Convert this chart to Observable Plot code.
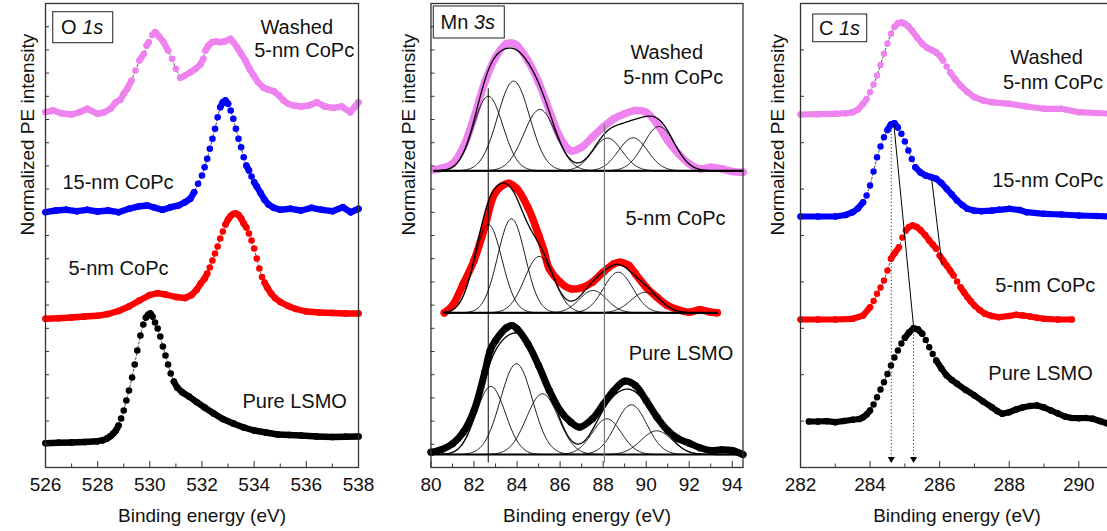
<!DOCTYPE html>
<html><head><meta charset="utf-8">
<script src="https://cdn.jsdelivr.net/npm/d3@7"></script>
<script src="https://cdn.jsdelivr.net/npm/@observablehq/plot@0.6"></script>
<style>
body{margin:0;background:#fff;overflow:hidden;}
#wrap{position:relative;width:1107px;height:531px;overflow:hidden;background:#fff;}
.panel{position:absolute;top:0;}
.panel svg{max-width:none !important;}
</style></head><body><div id="wrap"></div>
<script>
// ---------- colours & text ----------
const colors = {washed: "#ee82ee", cp15: "#0000ff", cp5: "#ff0000", lsmo: "#000000"};
const xTitle = "Binding energy (eV)";
const yTitle = "Normalized PE intensity";

// ---------- O 1s (intensity in arbitrary units, stacked) ----------
const o1sTicks = [526, 528, 530, 532, 534, 536, 538];
const o1sMinor = [527, 529, 531, 533, 535, 537];
const o1sWashedX = [526,526.3,526.6,527,527.3,527.6,528,528.25,528.49,528.7,528.87,529.0,529.13,529.3,529.45,529.6,529.77,529.88,529.96,530.1,530.21,530.35,530.53,530.7,530.85,531.0,531.17,531.35,531.56,531.75,531.94,532.05,532.13,532.25,532.39,532.55,532.7,532.9,533.09,533.2,533.34,533.5,533.66,533.82,533.98,534.15,534.36,534.55,534.75,534.95,535.13,535.3,535.51,535.8,536.1,536.41,536.7,537.05,537.35,537.68,537.85,538];
const o1sWashedY = [355.3,357,354.3,353,355.3,358.7,353.7,355.3,358.7,365.3,367.7,373.7,378.7,387,397,407,413.7,422,425.3,432.7,435.3,431,425.3,417,408.7,398.7,389.7,392,395.3,398.7,403,408.7,417,422,425.3,426,425.3,426.3,428.7,425.3,420.3,413.7,407,398.7,392,385.3,379.7,377.7,376.3,372,367,363.7,362,361,362,365.3,361,359.7,361,355.3,360.3,365.3];
const o1s15X = [526,526.4,526.8,527.2,527.6,528,528.4,528.8,529.2,529.6,529.9,530.2,530.5,530.8,531.1,531.35,531.55,531.7,531.85,532.0,532.1,532.2,532.3,532.4,532.5,532.6,532.7,532.8,532.9,533.0,533.1,533.2,533.3,533.4,533.5,533.6,533.7,533.8,533.9,534.0,534.1,534.25,534.4,534.55,534.75,535.0,535.4,535.8,536.2,536.6,537.0,537.4,537.7,538];
const o1s15Y = [255.3,257,257.7,256.3,257.7,256,257,255.3,258.7,261.3,262,259.7,257.7,260.3,262,265.3,268.7,275.3,283.7,292,300.3,308.7,318.7,328.7,338.7,350.3,360.3,365.3,367,363.7,357,348.7,338.7,328.7,320.3,310.3,302,297,291,285.3,281,274.3,267.7,263,259.7,257.7,258.7,257,259.7,257.7,256.3,260.3,255.3,258.7];
const o1s5X = [526,526.5,527,527.5,528,528.4,528.8,529.2,529.6,530.0,530.3,530.6,531.0,531.35,531.6,531.8,531.95,532.1,532.2,532.3,532.4,532.5,532.6,532.7,532.8,532.9,533.0,533.1,533.2,533.3,533.4,533.5,533.6,533.7,533.8,533.9,534.0,534.1,534.2,534.3,534.4,534.5,534.65,534.8,535.0,535.3,535.6,536.0,536.5,537,537.5,538];
const o1s5Y = [148.7,149.3,150,151,151.7,153.5,156.5,161,167,172.5,174.3,173,170.5,169.5,172.5,178,184,189,194,200,207,214,221,229,236,243,248,251.5,253.5,254,252.5,249,244,240,234,227,219,209,199,190.5,185,180,174,169.5,165.5,161.5,158.5,156,155,154.5,154,154];
const o1sLsmoX = [526,526.5,527,527.5,528,528.2,528.36,528.5,528.6,528.7,528.8,528.9,529.0,529.1,529.2,529.32,529.42,529.52,529.64,529.75,529.85,529.95,530.02,530.1,530.2,530.3,530.4,530.5,530.6,530.7,530.8,530.92,531.05,531.24,531.5,531.8,532.1,532.45,532.8,533.2,533.6,534,534.45,534.9,535.35,535.8,536.4,537,537.5,538];
const o1sLsmoY = [24.3,24.7,25,25.5,26.3,27.3,29,31.5,34,37,42,49,57,67,77,90,103,117,132,143,150,153,154,151,145,139,131,121,112,103,94,86,80,75.3,71,65.3,60,54,48.5,44,40,37,35,33,32.5,32,31,30.5,30.8,31];

// ---------- Mn 3s (data relative to each background, plus offsets) ----------
const mnTicks = [80, 82, 84, 86, 88, 90, 92, 94];
const mnMinor = [81, 83, 85, 87, 89, 91, 93];
const mnOffsets = {washed: 296.7, cp5: 154.7, lsmo: 13};
const mnRange = {washed: [80.15, 94.5], cp5: [80.62, 93.3], lsmo: [80, 94.5]};
const mnWashedX = [80.15,80.5,81,81.5,82,82.5,83,83.5,83.8,84,84.5,85,85.5,86,86.5,87,87.5,88,88.5,89,89.5,90,90.5,91,91.5,92,92.5,93,93.5,94,94.5];
const mnWashedY = [1,2.6,7,23.6,53.6,88.6,113.6,127,127.6,125.3,110.3,88.6,60.3,33.6,20,23.6,33.6,43.6,52,57,60.3,58.6,47,30.3,17,7,2,3.6,2,-0.7,-1.4];
const mn5X = [80.62,81,81.5,82,82.5,83,83.6,84,84.5,85,85.25,85.5,86,86.5,87,87.5,88,88.5,88.8,89.2,89.5,90,90.5,91,91.5,92,92.5,93,93.3];
const mn5Y = [0,7.3,29,52.3,85.6,120.6,129.6,124,105.6,78,62,44,30.6,24,25,30.6,40.6,49,50.6,47.3,39,25.6,15.6,7.3,3,0.6,3,0.6,0];
const mnLsmoX = [80,80.5,81,81.5,82,82.5,82.75,83,83.5,83.76,84,84.5,85,85.5,86,86.5,86.9,87.5,88,88.5,89,89.5,90,90.5,91,91.5,92,92.5,93,93.5,94,94.5];
const mnLsmoY = [2.3,5,10.7,22.3,44,82.3,104,114,126.7,129,125.7,110.7,89,64,44,32.3,27.3,35.7,50,64,73.3,69,54,37.3,24,15.7,11.3,6.7,4,4.7,4,0];
// fitted components: centre (eV), height, FWHM (eV)
const mnWashedComp = {c: [82.66, 83.84, 85.06, 88.2, 89.39, 90.6], h: [74.6, 89.7, 61.3, 32.7, 33, 44.3], w: [1.6, 1.75, 1.75, 1.6, 1.6, 1.7]};
const mn5Comp = {c: [82.66, 83.74, 85.03, 87.53, 88.7, 89.97], h: [88.3, 94, 56.3, 22.3, 40.6, 20.6], w: [1.5, 1.5, 1.6, 1.5, 1.6, 1.6]};
const mnLsmoComp = {c: [82.78, 83.97, 85.18, 88.17, 89.31, 90.49], h: [68, 90.7, 60.7, 35.7, 49.7, 23.7], w: [1.6, 1.75, 1.75, 1.6, 1.7, 1.7]};
const mnGuides = [82.66, 88.06];

// ---------- C 1s ----------
const c1sTicks = [282, 284, 286, 288, 290];
const c1sMinor = [283, 285, 287, 289, 291];
const c1sWashedX = [282,282.5,283,283.3,283.5,283.65,283.8,283.9,284.0,284.1,284.2,284.3,284.4,284.5,284.6,284.7,284.8,284.9,285.0,285.1,285.2,285.35,285.5,285.65,285.8,285.9,286.0,286.1,286.2,286.3,286.45,286.6,286.8,287.0,287.25,287.5,288,288.5,289,289.5,290,290.5,291];
const c1sWashedY = [353,353.3,353.7,354.3,355.3,358,363.7,368.5,375.3,383,392,402.5,413.7,424,433.7,440.5,444.3,445,443.7,441,437,430,423.7,419.5,417,415,412,407,401,395.3,388,382,375.5,370.3,367,365.3,363.7,361,358.7,358.7,355.3,354.5,353.7];
const c1s15X = [282,282.5,283,283.3,283.5,283.65,283.8,283.9,284.0,284.1,284.2,284.3,284.4,284.5,284.6,284.7,284.8,284.9,285.0,285.1,285.2,285.3,285.45,285.6,285.75,285.9,286.05,286.2,286.35,286.5,286.65,286.8,287.0,287.2,287.5,287.7,288,288.3,288.5,289,289.5,290,290.5,291];
const c1s15Y = [251,251,251,252.5,255.3,259,265.3,272,282,296,310.3,321,330.3,337.5,343,344.3,340,333.7,326,317,308.5,300.3,295,292,290.5,288.7,284.5,278.7,273,267,262.5,258.7,256.8,256.3,256.8,257.7,258.7,257.5,255.3,253.7,253,252,251.5,251];
const c1s5X = [282,282.5,283,283.5,283.8,284.0,284.1,284.2,284.3,284.4,284.5,284.6,284.7,284.83,284.93,285.03,285.12,285.22,285.34,285.46,285.58,285.7,285.8,285.9,286.0,286.1,286.2,286.3,286.4,286.5,286.6,286.7,286.8,286.9,287.0,287.15,287.3,287.5,287.7,288.0,288.2,288.4,288.6,288.8,289.0,289.4,289.8];
const c1s5Y = [148,148,148,148.7,152,160.3,166.5,173.7,180,187,197,208.7,214,220.3,230,237,240.5,242,240.5,237,232.5,227,223,218.7,212,207,202,197,192,186,180.3,175,170.3,166,162,157.5,153.7,151.5,150.3,151.5,152.7,152,151,149.8,148.7,148,148];
const c1sLsmoX = [282.24,282.5,282.75,283.0,283.25,283.5,283.7,283.8,283.9,284.0,284.1,284.2,284.3,284.4,284.5,284.6,284.7,284.8,284.9,285.0,285.12,285.25,285.38,285.5,285.6,285.7,285.8,285.9,286.05,286.2,286.35,286.5,286.75,287.0,287.25,287.5,287.65,287.8,288.0,288.2,288.4,288.6,288.8,289.0,289.2,289.4,289.6,289.8,290.0,290.2,290.4,290.6,290.8,291];
const c1sLsmoY = [46,46,46.3,45.3,46.5,47.7,48.5,50.3,53,57,63,70.3,78,85.3,93.5,102,110,117,124,129.7,135,139.3,138,133.7,127.5,120.3,113.5,107,99,92,87.5,83.7,77.5,72,66,60.3,56.5,53.7,55.3,58,60.3,61.5,62,60,57,54,51,49.5,49.3,49.5,48.7,46.5,44.3,43.5];
// peak-shift guides (eV, intensity)
const c1sDropLines = [{x: 284.61, top: 342}, {x: 285.25, top: 139}];
const c1sShiftLines = [{x1: 284.68, y1: 344.3, x2: 285.25, y2: 141}, {x1: 285.77, y1: 288.7, x2: 286.07, y2: 202}];

// ---------- helpers ----------
const FONT = "'Liberation Sans', Arial, Helvetica, sans-serif";
const H = 531, MT = 3, MB = 64, FH = H - MT - MB;
const zip = (xs, ys, extra = 0) => xs.map((x, i) => ({x, y: ys[i] + extra}));

// dense band + dots (Mn 3s)
function spectrum(data, color, r = 3.3, band = 6.4) {
  return [
    Plot.line(data, {x: "x", y: "y", stroke: color, strokeWidth: band, curve: "catmull-rom"}),
    Plot.dot(data, {x: "x", y: "y", r, fill: color, stroke: "none"})
  ];
}
// dots joined by a thin dashed line; where the curve is flat the dots merge into a band
function dotted(data, color, pxPerEv, thr, r = 3.3, band = 6.4) {
  const segs = [];
  for (let i = 1; i < data.length; i++) {
    const a = data[i - 1], b = data[i];
    const slope = Math.abs(b.y - a.y) / ((b.x - a.x) * pxPerEv);
    if (slope < thr) segs.push({x1: a.x, y1: a.y, x2: b.x, y2: b.y});
  }
  return [
    Plot.line(data, {x: "x", y: "y", stroke: "#000", strokeWidth: 0.7, strokeDasharray: "2,2"}),
    Plot.link(segs, {x1: "x1", y1: "y1", x2: "x2", y2: "y2", stroke: color, strokeWidth: band, strokeLinecap: "round"}),
    Plot.dot(data, {x: "x", y: "y", r, fill: color, stroke: "none"})
  ];
}

function fitMarks(comp, offset, range) {
  const grid = d3.range(range[0], range[1] + 1e-9, 0.04);
  const marks = [];
  const sig = comp.w.map(w => w / 2.3548);
  comp.c.forEach((c, k) => {
    const pts = grid.map(x => ({x, y: offset + comp.h[k] * Math.exp(-((x - c) ** 2) / (2 * sig[k] ** 2))}));
    marks.push(Plot.line(pts, {x: "x", y: "y", stroke: "#000", strokeWidth: 0.9}));
  });
  const env = grid.map(x => ({x, y: offset + comp.c.reduce((s, c, k) => s + comp.h[k] * Math.exp(-((x - c) ** 2) / (2 * sig[k] ** 2)), 0)}));
  marks.push(Plot.line([{x: range[0], y: offset}, {x: range[1], y: offset}], {x: "x", y: "y", stroke: "#000", strokeWidth: 2}));
  marks.push(Plot.line(env, {x: "x", y: "y", stroke: "#000", strokeWidth: 1.3}));
  return marks;
}

function labels(list) {
  return Plot.text(list, {x: "x", y: "y", text: "t", textAnchor: "start", lineAnchor: "bottom", fontSize: 20, fill: "#111"});
}

function makePanel(cfg) {
  const fw = cfg.width - cfg.marginLeft - cfg.marginRight;
  const svg = Plot.plot({
    width: cfg.width, height: H,
    marginTop: MT, marginBottom: MB, marginLeft: cfg.marginLeft, marginRight: cfg.marginRight,
    style: {fontFamily: FONT, background: "transparent", overflow: "visible", color: "#111", maxWidth: "none"},
    x: {domain: cfg.domain},
    y: {domain: [0, FH], axis: null},
    marks: [
      ...cfg.marks,
      Plot.frame({stroke: "#333", strokeWidth: 1.3}),
      Plot.tickX(cfg.major, {x: d => d, insetTop: FH - 6, stroke: "#333"}),
      Plot.tickX(cfg.minor, {x: d => d, insetTop: FH - 3.5, stroke: "#333"}),
      Plot.tickY(cfg.yticks, {y: d => d, insetRight: fw - 4, stroke: "#333"}),
      Plot.axisX(cfg.major, {anchor: "bottom", tickSize: 0, tickPadding: 10, fontSize: 19, tickFormat: d => String(d), label: null, fill: "#111"}),
      Plot.text([xTitle], {frameAnchor: "bottom", dy: 54.7, lineAnchor: "bottom", fontSize: 19, fill: "#111"}),
      Plot.text([yTitle], {frameAnchor: "left", dx: cfg.ylabelDx, rotate: -90, lineAnchor: "bottom", fontSize: 19, fill: "#111"})
    ]
  });
  svg.style.maxWidth = "none";
  const b = cfg.box;
  const g = d3.select(svg).append("g");
  g.append("rect").attr("x", b.x).attr("y", b.y).attr("width", b.w).attr("height", b.h)
    .attr("fill", "#fff").attr("stroke", "#333").attr("stroke-width", 1.1);
  const t = g.append("text").attr("x", b.tx).attr("y", b.ty).attr("font-size", 20)
    .attr("text-anchor", "start").attr("font-family", FONT).attr("fill", "#111");
  t.append("tspan").text(b.main + " ");
  t.append("tspan").attr("font-style", "italic").text(b.ital);
  const div = document.createElement("div");
  div.className = "panel";
  div.style.left = cfg.left + "px";
  div.style.width = cfg.width + "px";
  div.appendChild(svg);
  document.getElementById("wrap").appendChild(div);
}

// ---------- panel 1: O 1s ----------
const o1sPx = 313 / 12;
makePanel({
  left: 0, width: 370, marginLeft: 45, marginRight: 12, domain: [526, 538],
  major: o1sTicks, minor: o1sMinor, yticks: d3.range(1, 20).map(i => i * FH / 20), ylabelDx: -12,
  box: {x: 52.7, y: 11.7, w: 60, h: 31, tx: 61, ty: 34, main: "O", ital: "1s"},
  marks: [
    ...dotted(zip(o1sLsmoX, o1sLsmoY), colors.lsmo, o1sPx, 2.0),
    ...dotted(zip(o1s5X, o1s5Y), colors.cp5, o1sPx, 2.0),
    ...dotted(zip(o1s15X, o1s15Y), colors.cp15, o1sPx, 2.0),
    ...dotted(zip(o1sWashedX, o1sWashedY), colors.washed, o1sPx, 2.0),
    labels([
      {x: 534.24, y: 434, t: "Washed"},
      {x: 534.0, y: 410.3, t: "5-nm CoPc"},
      {x: 526.65, y: 279, t: "15-nm CoPc"},
      {x: 526.88, y: 193, t: "5-nm CoPc"},
      {x: 533.55, y: 59.3, t: "Pure LSMO"}
    ])
  ]
});

// ---------- panel 2: Mn 3s ----------
makePanel({
  left: 380, width: 373, marginLeft: 50.5, marginRight: 10.5, domain: [80, 94.5],
  major: mnTicks, minor: mnMinor, yticks: d3.range(1, 20).map(i => i * FH / 20), ylabelDx: -16.5,
  box: {x: 53.3, y: 6, w: 71, h: 32, tx: 60.5, ty: 29, main: "Mn", ital: "3s"},
  marks: [
    ...spectrum(zip(mnLsmoX, mnLsmoY, mnOffsets.lsmo), colors.lsmo, 3.6, 7),
    ...spectrum(zip(mn5X, mn5Y, mnOffsets.cp5), colors.cp5, 3.8, 7.5),
    ...spectrum(zip(mnWashedX, mnWashedY, mnOffsets.washed), colors.washed, 3.8, 7.5),
    ...fitMarks(mnLsmoComp, mnOffsets.lsmo, mnRange.lsmo),
    ...fitMarks(mn5Comp, mnOffsets.cp5, mnRange.cp5),
    ...fitMarks(mnWashedComp, mnOffsets.washed, mnRange.washed),
    Plot.ruleX([{x: mnGuides[0], top: 378.7}], {x: "x", y1: 4.5, y2: "top", stroke: "#000", strokeWidth: 1}),
    Plot.ruleX([{x: mnGuides[1], top: 342.7}], {x: "x", y1: 4.5, y2: "top", stroke: "#777", strokeWidth: 1.2}),
    labels([
      {x: 89.27, y: 408.7, t: "Washed"},
      {x: 88.93, y: 383.7, t: "5-nm CoPc"},
      {x: 89.04, y: 243, t: "5-nm CoPc"},
      {x: 89.19, y: 108, t: "Pure LSMO"}
    ])
  ]
});

// ---------- panel 3: C 1s ----------
const c1sPx = 313.1 / 9;
makePanel({
  left: 750, width: 373.1, marginLeft: 50, marginRight: 10, domain: [282, 291],
  major: c1sTicks, minor: c1sMinor, yticks: d3.range(1, 10).map(i => i * FH / 10), ylabelDx: -17,
  box: {x: 62.7, y: 14, w: 54, h: 27.7, tx: 69, ty: 35, main: "C", ital: "1s"},
  marks: [
    ...dotted(zip(c1sLsmoX, c1sLsmoY), colors.lsmo, c1sPx, 1.6, 3.2, 6.2),
    ...dotted(zip(c1s5X, c1s5Y), colors.cp5, c1sPx, 1.6, 3.2, 6.2),
    ...dotted(zip(c1s15X, c1s15Y), colors.cp15, c1sPx, 1.6, 3.2, 6.2),
    ...dotted(zip(c1sWashedX, c1sWashedY), colors.washed, c1sPx, 1.6, 3.2, 6.2),
    Plot.ruleX(c1sDropLines, {x: "x", y1: 9, y2: "top", stroke: "#333", strokeWidth: 1, strokeDasharray: "1.2,2.2"}),
    Plot.dot(c1sDropLines, {x: "x", y: 8.5, symbol: "triangle", r: 2.6, rotate: 180, fill: "#000", stroke: "none"}),
    Plot.link(c1sShiftLines, {x1: "x1", y1: "y1", x2: "x2", y2: "y2", stroke: "#000", strokeWidth: 1}),
    labels([
      {x: 288.03, y: 403.7, t: "Washed"},
      {x: 287.82, y: 378.7, t: "5-nm CoPc"},
      {x: 287.51, y: 280.3, t: "15-nm CoPc"},
      {x: 287.6, y: 175.3, t: "5-nm CoPc"},
      {x: 287.4, y: 87.7, t: "Pure LSMO"}
    ])
  ]
});
</script></body></html>
